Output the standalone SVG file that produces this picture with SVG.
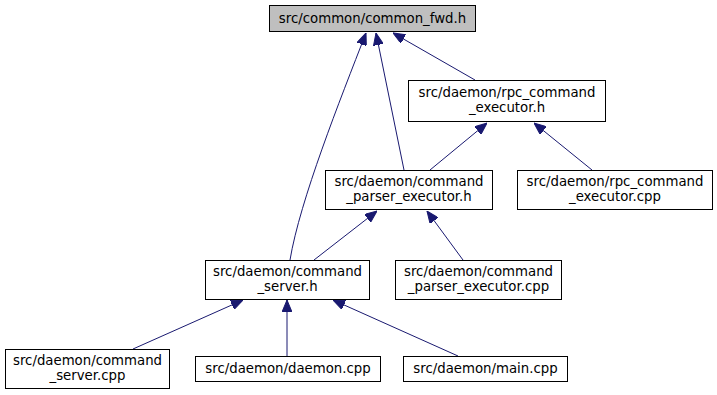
<svg xmlns="http://www.w3.org/2000/svg" width="717" height="395" viewBox="0 0 717 395">
  <style>
    .box { fill: #ffffff; stroke: #000000; stroke-width: 1; }
    .root { fill: #bfbfbf; }
    .lbl { font-family: "DejaVu Sans", "Liberation Sans", sans-serif; font-size: 13.3px; fill: #000000; text-anchor: middle; }
    .edge { fill: none; stroke: #191970; stroke-width: 1; marker-end: url(#head); }
  </style>
  <defs>
    <marker id="head" markerUnits="userSpaceOnUse" viewBox="0 0 12 10" refX="12" refY="5" markerWidth="12" markerHeight="10" orient="auto">
      <path d="M0,0 L12,5 L0,10 z" fill="#191970" stroke="#191970" stroke-width="1"/>
    </marker>
  </defs>

  <!-- include relations: each edge points from the includer to the included header -->
  <g id="edges">
    <path class="edge" d="M475,80 L393,33"/>
    <path class="edge" d="M404,170 L376,33"/>
    <path class="edge" d="M290,260 C300,200 340,100 366,33"/>
    <path class="edge" d="M592,170 L534,123"/>
    <path class="edge" d="M430,170 L487,123"/>
    <path class="edge" d="M314,260 L377,211"/>
    <path class="edge" d="M463,260 L427,211"/>
    <path class="edge" d="M133,349 L243,300"/>
    <path class="edge" d="M287,356 L287,300"/>
    <path class="edge" d="M458,356 L333,300"/>
  </g>

  <g id="node-common-fwd-h">
    <rect class="box root" x="269.5" y="5.5" width="206" height="26"/>
    <text class="lbl" x="372.5" y="23">src/common/common_fwd.h</text>
  </g>

  <g id="node-rpc-command-executor-h">
    <rect class="box" x="408.5" y="80.5" width="197" height="41"/>
    <text class="lbl" x="507" y="97">src/daemon/rpc_command</text>
    <text class="lbl" x="507" y="112">_executor.h</text>
  </g>

  <g id="node-command-parser-executor-h">
    <rect class="box" x="325.5" y="170.5" width="167" height="39"/>
    <text class="lbl" x="409" y="186">src/daemon/command</text>
    <text class="lbl" x="409" y="201">_parser_executor.h</text>
  </g>

  <g id="node-rpc-command-executor-cpp">
    <rect class="box" x="517.5" y="170.5" width="195" height="39"/>
    <text class="lbl" x="615" y="186">src/daemon/rpc_command</text>
    <text class="lbl" x="615" y="201">_executor.cpp</text>
  </g>

  <g id="node-command-server-h">
    <rect class="box" x="205.5" y="260.5" width="164" height="39"/>
    <text class="lbl" x="287.5" y="276">src/daemon/command</text>
    <text class="lbl" x="287.5" y="291">_server.h</text>
  </g>

  <g id="node-command-parser-executor-cpp">
    <rect class="box" x="395.5" y="260.5" width="166" height="39"/>
    <text class="lbl" x="478.5" y="276">src/daemon/command</text>
    <text class="lbl" x="478.5" y="291">_parser_executor.cpp</text>
  </g>

  <g id="node-command-server-cpp">
    <rect class="box" x="5.5" y="349.5" width="164" height="39"/>
    <text class="lbl" x="87.5" y="365">src/daemon/command</text>
    <text class="lbl" x="87.5" y="380">_server.cpp</text>
  </g>

  <g id="node-daemon-cpp">
    <rect class="box" x="195.5" y="356.5" width="185" height="25"/>
    <text class="lbl" x="288" y="373">src/daemon/daemon.cpp</text>
  </g>

  <g id="node-main-cpp">
    <rect class="box" x="403.5" y="356.5" width="164" height="25"/>
    <text class="lbl" x="485.5" y="373">src/daemon/main.cpp</text>
  </g>
</svg>
